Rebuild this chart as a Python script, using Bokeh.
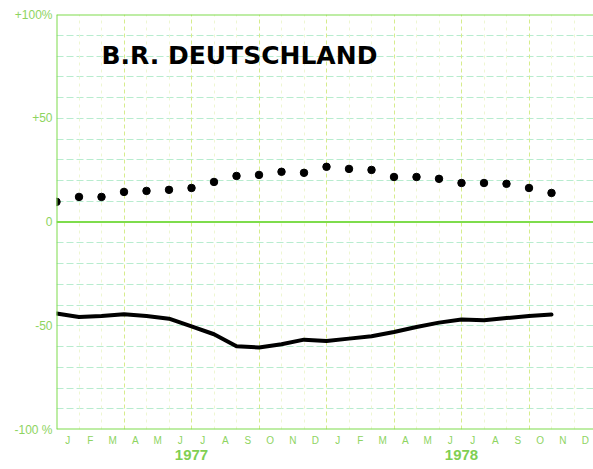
from bokeh.plotting import figure
from bokeh.models import (FixedTicker, LinearAxis, Span, Label, ColumnDataSource, Grid)
from bokeh.embed import file_html
from bokeh.resources import INLINE

# ---- data ----
month_labels = ["J", "F", "M", "A", "M", "J", "J", "A", "S", "O", "N", "D",
                "J", "F", "M", "A", "M", "J", "J", "A", "S", "O", "N", "D"]
years = ["1977", "1978"]
# observation points at the start of each month, Jan 1977 .. Nov 1978
obs_month = list(range(23))
dotted_series = [9.7, 12.1, 12.1, 14.5, 15.0, 15.5, 16.4, 19.3, 22.2, 22.7, 24.2, 23.7,
                 26.6, 25.6, 25.1, 21.7, 21.7, 20.8, 18.8, 18.8, 18.4, 16.4, 14.0]
solid_series = [-44.1, -45.8, -45.3, -44.5, -45.3, -46.6, -50.3, -54.1, -59.9, -60.5, -58.9, -56.7,
                -57.3, -56.2, -55.1, -53.0, -50.6, -48.5, -47.0, -47.4, -46.3, -45.3, -44.6]
y_ticks = [-100, -50, 0, 50, 100]
y_tick_labels = ["-100 %", "-50", "0", "+50", "+100%"]
title_text = "B.R. DEUTSCHLAND"

GREEN = "#7edc4c"
LABEL_GREEN = "#8ed45f"

src = ColumnDataSource(dict(m=obs_month, dots=dotted_series, line=solid_series))

W, H = 593, 469
p = figure(width=W, height=H, x_range=(0, 537 / 22.5), y_range=(-100, 100),
           output_backend="svg", toolbar_location=None, x_axis_type=None,
           min_border_left=56, min_border_right=0, min_border_top=14, min_border_bottom=40)
p.outline_line_color = None
p.background_fill_color = "white"
p.border_fill_color = "white"

# y axis
p.yaxis.ticker = FixedTicker(ticks=y_ticks)
p.yaxis.major_label_overrides = {t: l for t, l in zip(y_ticks, y_tick_labels)}
p.yaxis.axis_line_color = None
p.yaxis.major_tick_line_color = None
p.yaxis.minor_tick_line_color = None
p.yaxis.major_tick_out = 0
p.yaxis.major_tick_in = 0
p.yaxis.minor_tick_out = 0
p.yaxis.major_label_text_color = LABEL_GREEN
p.yaxis.major_label_text_font = "Liberation Sans"
p.yaxis.major_label_text_font_size = "12px"
p.yaxis.major_label_standoff = 4

# horizontal grid every 10
p.ygrid.ticker = FixedTicker(ticks=[v for v in range(-90, 100, 10) if v != 0])
p.ygrid.grid_line_color = "#b8eccf"
p.ygrid.grid_line_dash = "7 3"
p.ygrid.grid_line_width = 1

# month axis
month_ticks = [i + 0.5 for i in range(len(month_labels))]
xa = LinearAxis(ticker=FixedTicker(ticks=month_ticks),
                major_label_overrides={t: l for t, l in zip(month_ticks, month_labels)})
xa.axis_line_color = None
xa.major_tick_line_color = None
xa.minor_tick_line_color = None
xa.major_tick_out = 0
xa.major_tick_in = 0
xa.minor_tick_out = 0
xa.major_label_text_color = LABEL_GREEN
xa.major_label_text_font = "Liberation Sans"
xa.major_label_text_font_size = "10px"
xa.major_label_standoff = 5
p.add_layout(xa, "below")

year_ticks = [6, 18]
ya = LinearAxis(ticker=FixedTicker(ticks=year_ticks),
                major_label_overrides={t: l for t, l in zip(year_ticks, years)})
ya.axis_line_color = None
ya.major_tick_line_color = None
ya.minor_tick_line_color = None
ya.major_tick_out = 0
ya.major_tick_in = 0
ya.minor_tick_out = 0
ya.major_label_text_color = "#7fcf52"
ya.major_label_text_font = "Liberation Sans"
ya.major_label_text_font_style = "bold"
ya.major_label_text_font_size = "15px"
ya.major_label_standoff = 1
p.add_layout(ya, "below")

# vertical grids: quarters and months
qgrid = Grid(dimension=0, ticker=FixedTicker(ticks=[3, 6, 9, 12, 15, 18, 21]),
             grid_line_color="#d6ec8c", grid_line_dash="4 3", grid_line_width=1)
mgrid = Grid(dimension=0, ticker=FixedTicker(ticks=[i for i in range(1, 24) if i % 3]),
             grid_line_color="#eef6d2", grid_line_dash="3 4", grid_line_width=1)
p.add_layout(mgrid)
p.add_layout(qgrid)

# solid frame lines
for loc in (100, 0, -100):
    p.add_layout(Span(location=loc, dimension="width", line_color=GREEN, line_width=2))
p.add_layout(Span(location=0, dimension="height", line_color=GREEN, line_width=2))

# series
p.line("m", "line", source=src, line_color="black", line_width=4, line_join="round", line_cap="round")
p.scatter("m", "dots", source=src, size=7.5, color="black")

# title inside chart
p.add_layout(Label(x=2.0, y=80.3, text=title_text, text_font="DejaVu Sans",
                   text_font_style="bold", text_font_size="25px", text_color="black",
                   text_baseline="alphabetic"))

open("out.html", "w").write(file_html(p, INLINE))
